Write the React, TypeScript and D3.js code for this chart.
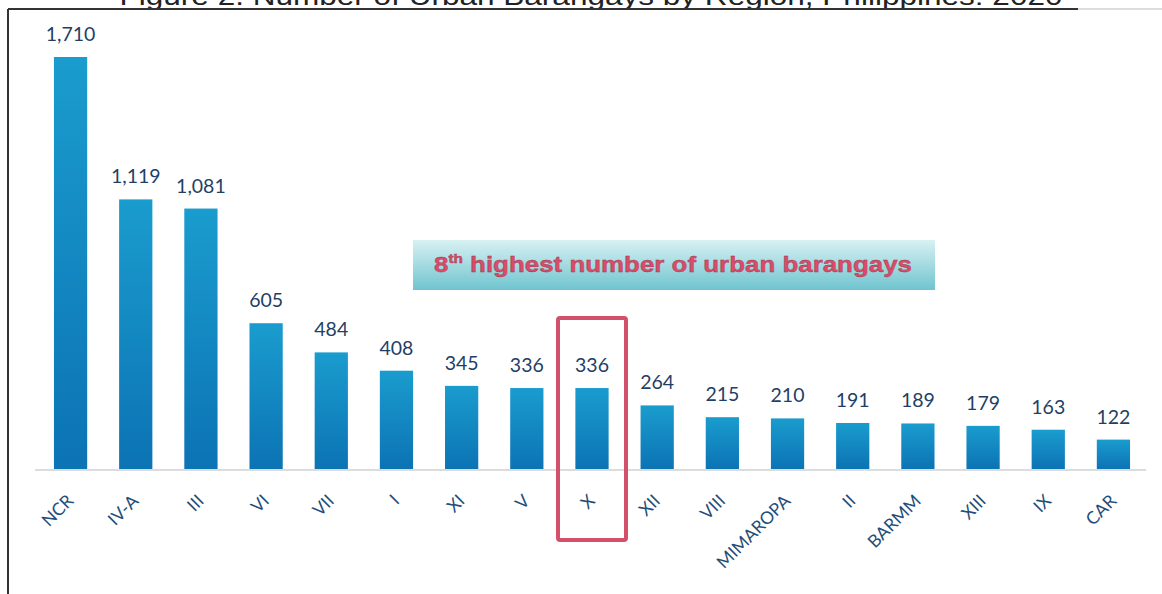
import React from "react";
import * as d3 from "d3";

const regions = ["NCR", "IV-A", "III", "VI", "VII", "I", "XI", "V", "X", "XII", "VIII", "MIMAROPA", "II", "BARMM", "XIII", "IX", "CAR"];
const barangays = [1710, 1119, 1081, 605, 484, 408, 345, 336, 336, 264, 215, 210, 191, 189, 179, 163, 122];
const highlighted = "X";
const titleText = "Figure 2. Number of Urban Barangays by Region, Philippines: 2020";
const annotation = "highest number of urban barangays";

const W = 1162, H = 594;

export default function App() {
  const x = d3.scaleBand<string>().domain(regions).range([37, 1147]).paddingInner(0.49).paddingOuter(0.26);
  const y = d3.scaleLinear().domain([0, 1710]).range([469, 57]);
  const fmt = d3.format(",");
  const bw = x.bandwidth();
  const hx = (x(highlighted) ?? 0) + bw / 2;

  return (
    <div style={{ position: "absolute", left: 0, top: 0 }}>
      <svg width={W} height={H} style={{ display: "block", background: "#fff" }}>
        <defs>
          <linearGradient id="barGrad" x1="0" y1="0" x2="0" y2="1">
            <stop offset="0%" stopColor="#1a9cce" />
            <stop offset="100%" stopColor="#0c73b4" />
          </linearGradient>
          <linearGradient id="boxGrad" x1="0" y1="0" x2="0" y2="1">
            <stop offset="0%" stopColor="#d8f1f3" />
            <stop offset="45%" stopColor="#a9dde3" />
            <stop offset="100%" stopColor="#6fc4cf" />
          </linearGradient>
        </defs>
        <text x={591} y={5} textAnchor="middle" fontFamily="Liberation Sans, Arial, sans-serif" fontSize={25} fill="#222" textLength={943} lengthAdjust="spacingAndGlyphs">{titleText}</text>
        <line x1={8} x2={1078} y1={9} y2={9} stroke="#333" strokeWidth={2} />
        <line x1={1078} x2={1162} y1={9} y2={9} stroke="#bbb" strokeWidth={1} />
        <line x1={8} x2={8} y1={9} y2={594} stroke="#333" strokeWidth={2} />

        <line x1={35} x2={1146} y1={470} y2={470} stroke="#d0d0d0" strokeWidth={1.5} />

        {regions.map((r, i) => {
          const bx = x(r) ?? 0;
          const v = barangays[i];
          return (
            <g key={r}>
              <rect x={bx} y={y(v)} width={bw} height={y(0) - y(v)} fill="url(#barGrad)" />
              <text x={bx + bw / 2} y={y(v) - 16} textAnchor="middle" fontFamily="Lato, 'Open Sans', sans-serif" fontSize={19.5} fill="#1f3f66">{fmt(v)}</text>
              <text transform={`translate(${bx + bw / 2 + 4},${502}) rotate(-45)`} textAnchor="end" fontFamily="Lato, 'Open Sans', sans-serif" fontSize={17.5} fill="#1f4e79">{r}</text>
            </g>
          );
        })}

        <rect x={hx - 34} y={318} width={68} height={222} fill="none" stroke="#d4506a" strokeWidth={4} rx={2} />

        <rect x={413} y={240} width={522} height={50} fill="url(#boxGrad)" />
        <text x={673} y={272} textAnchor="middle" fontFamily="Liberation Sans, Arial, sans-serif" fontWeight="bold" fontSize={22} fill="#dc4b68" stroke="#9a3a50" strokeWidth={0.4} textLength={478} lengthAdjust="spacingAndGlyphs">
          8<tspan fontSize={13} dy={-9}>th</tspan><tspan dy={9}> {annotation}</tspan>
        </text>
      </svg>
    </div>
  );
}
